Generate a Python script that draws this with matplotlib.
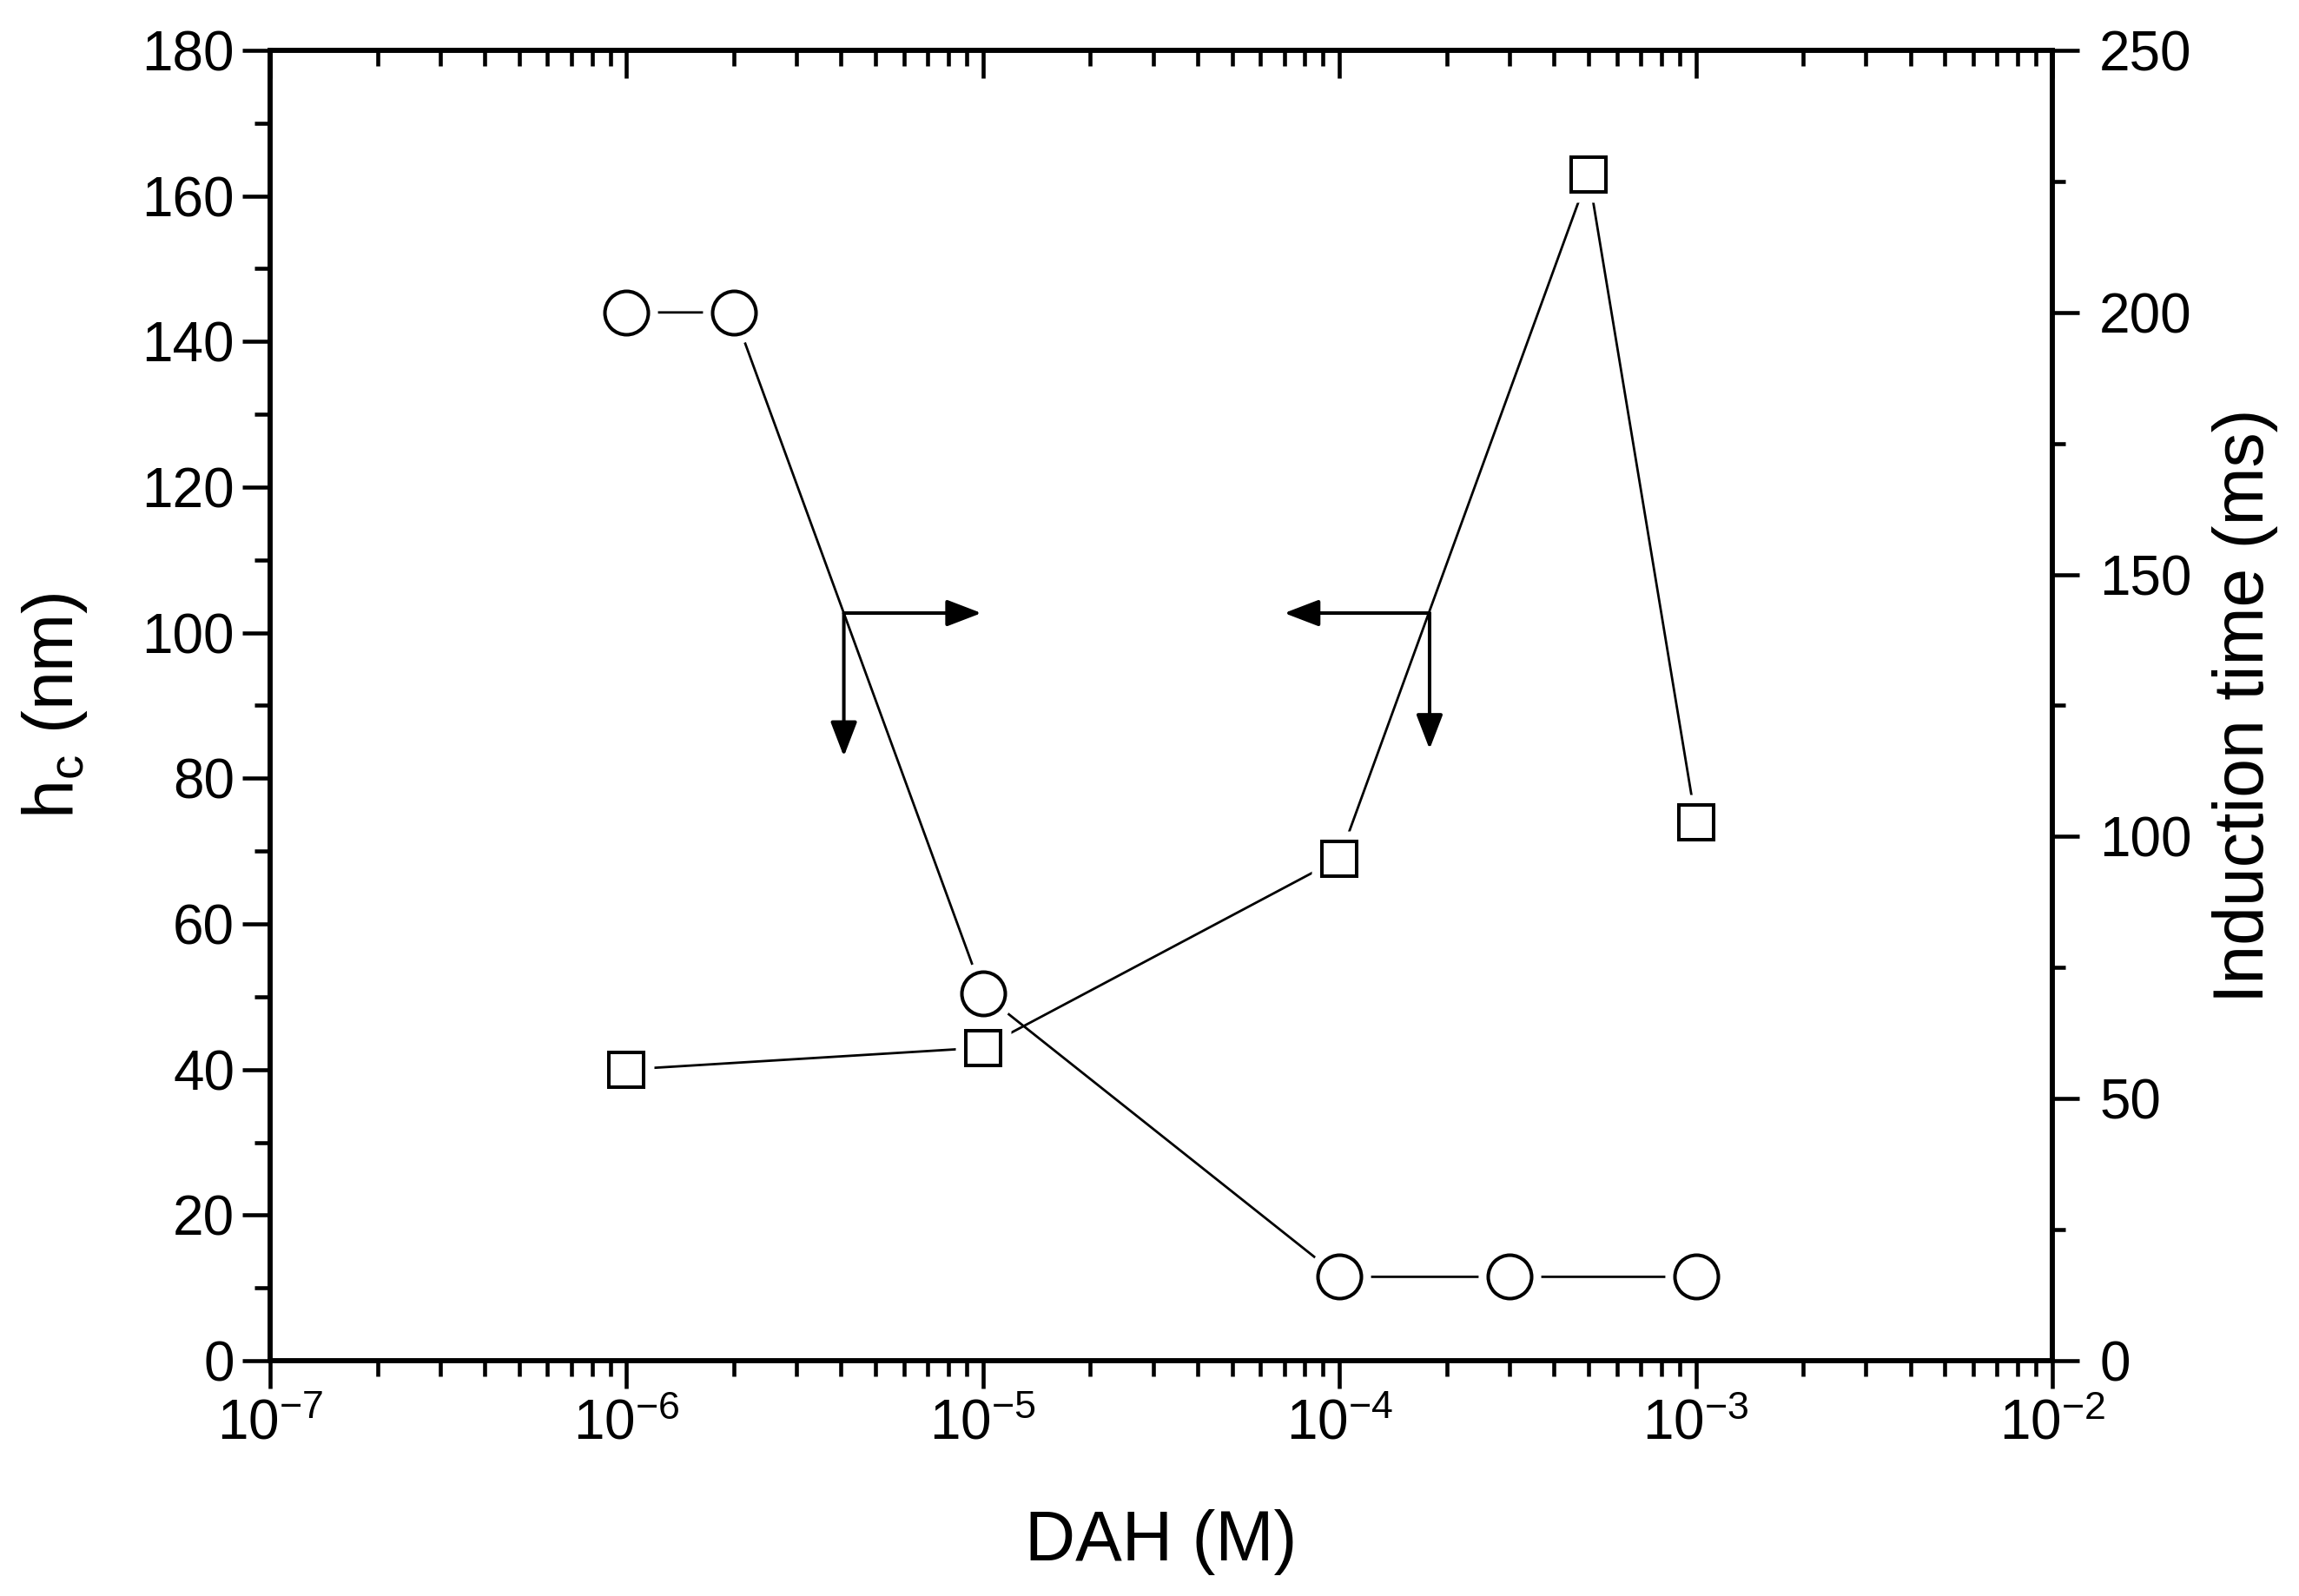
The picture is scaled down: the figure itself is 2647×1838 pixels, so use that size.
import numpy as np
import matplotlib
matplotlib.use("Agg")
import matplotlib.pyplot as plt
from matplotlib.ticker import LogLocator, MultipleLocator, NullFormatter

plt.rcParams.update({
    "font.family": ["Liberation Sans", "DejaVu Sans"],
    "mathtext.fontset": "custom",
    "mathtext.rm": "Liberation Sans",
    "mathtext.it": "Liberation Sans:italic",
    "mathtext.bf": "Liberation Sans:bold",
    "mathtext.default": "regular",
    "axes.unicode_minus": False,
})

# ---- data ----
dah_hc = [1e-6, 1e-5, 1e-4, 5e-4, 1e-3]          # DAH (M) for h_c squares
hc_nm = [40, 43, 69, 163, 74]                     # h_c (nm), left axis
dah_ind = [1e-6, 2e-6, 1e-5, 1e-4, 3e-4, 1e-3]   # DAH (M) for induction-time circles
induction_ms = [200, 200, 70, 16, 16, 16]         # induction time (ms), right axis

# arrow annotations (left-axis data coordinates)
arrow_corner_x = [4.07e-6, 1.79e-4]
arrow_corner_y = [102.7, 102.7]
arrow_horiz_tip_x = [9.9e-6, 7.0e-5]
arrow_vert_tip_y = [83.0, 84.0]

W, H = 2647, 1838
fig = plt.figure(figsize=(W / 100, H / 100), dpi=100)
L, R, T, B = 311, 2363, 58, 1567
ax = fig.add_axes([L / W, 1 - B / H, (R - L) / W, (B - T) / H])
ax2 = ax.twinx()

ax.set_xscale("log")
ax.set_xlim(1e-7, 1e-2)
ax.set_ylim(0, 180)
ax2.set_ylim(0, 250)

# squares: h_c
ax.plot(dah_hc, hc_nm, "-", color="k", lw=2.0, zorder=2)
ax.plot(dah_hc, hc_nm, "s", ms=46, mfc="white", mec="none", zorder=3)
ax.plot(dah_hc, hc_nm, "s", ms=29, mfc="white", mec="k", mew=2.9, zorder=4)

# circles: induction time
ax2.plot(dah_ind, induction_ms, "-", color="k", lw=2.0, zorder=2)
ax2.plot(dah_ind, induction_ms, "o", ms=52, mfc="white", mec="none", zorder=3)
ax2.plot(dah_ind, induction_ms, "o", ms=36, mfc="white", mec="k", mew=2.9, zorder=4)

# arrows
aprops = dict(arrowstyle="-|>,head_length=24.5,head_width=9.4", mutation_scale=1,
              lw=2.9, color="k", shrinkA=0, shrinkB=0)
for cx, cy, hx, vy in zip(arrow_corner_x, arrow_corner_y, arrow_horiz_tip_x, arrow_vert_tip_y):
    ax.annotate("", xy=(hx, cy), xytext=(cx, cy), arrowprops=aprops, zorder=6)
    ax.annotate("", xy=(cx, vy), xytext=(cx, cy), arrowprops=aprops, zorder=6)

# ticks
ax.xaxis.set_major_locator(LogLocator(base=10, numticks=20))
ax.xaxis.set_minor_locator(LogLocator(base=10, subs=np.arange(2, 10), numticks=200))
ax.xaxis.set_minor_formatter(NullFormatter())
ax.yaxis.set_major_locator(MultipleLocator(20))
ax.yaxis.set_minor_locator(MultipleLocator(10))
ax2.yaxis.set_major_locator(MultipleLocator(50))
ax2.yaxis.set_minor_locator(MultipleLocator(25))

ax.tick_params(axis="x", which="both", bottom=True, top=False, direction="out",
               labelsize=46, pad=8)
ax.tick_params(axis="x", which="major", length=23, width=3.3)
ax.tick_params(axis="x", which="minor", length=13, width=3.3)
ax.tick_params(axis="y", which="both", left=True, right=False, direction="out",
               labelsize=46, pad=6.5)
ax.tick_params(axis="y", which="major", length=23, width=3.3)
ax.tick_params(axis="y", which="minor", length=13, width=3.3)

ax2.xaxis.set_visible(True)
ax2.tick_params(axis="x", which="both", top=True, bottom=False, labeltop=False,
                labelbottom=False, direction="in")
ax2.tick_params(axis="x", which="major", length=23, width=3.3)
ax2.tick_params(axis="x", which="minor", length=13, width=3.3)
ax2.tick_params(axis="y", which="both", right=True, left=False, direction="out",
                labelsize=46, pad=17)
ax2.tick_params(axis="y", which="major", length=22, width=3.3)
ax2.tick_params(axis="y", which="minor", length=11, width=3.3)

for a in (ax, ax2):
    for s in a.spines.values():
        s.set_linewidth(4)

ax.set_xlabel("DAH (M)", fontsize=58)
ax.xaxis.set_label_coords(0.5, -0.113)
ax.set_ylabel("h$_\\mathregular{c}$ (nm)", fontsize=58)
ax.yaxis.set_label_coords(-0.1014, 0.5)
ax2.set_ylabel("Induction time (ms)", fontsize=58)
ax2.yaxis.set_label_coords(1.0897, 0.5)

fig.savefig("out.png", dpi=100)
